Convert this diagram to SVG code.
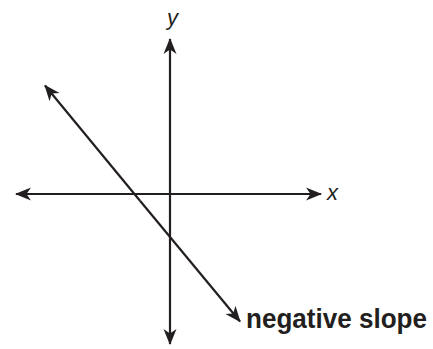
<svg xmlns="http://www.w3.org/2000/svg" width="433" height="349" viewBox="0 0 433 349">
<style>
.ax{stroke:#231f20;stroke-width:2.2;fill:none;marker-end:url(#ah);}
.lbl{font-family:"Liberation Sans",Arial,sans-serif;fill:#231f20;}
.it{font-style:italic;font-size:22px;}
.bd{font-weight:bold;font-size:27px;}
</style>
<defs>
<marker id="ah" markerUnits="userSpaceOnUse" markerWidth="20" markerHeight="16" viewBox="-16 -8 18 16" refX="0" refY="0" orient="auto">
<path d="M1,0 L-15,-6.5 L-10.5,0 L-15,6.5 Z" fill="#231f20"/>
</marker>
</defs>
<rect width="433" height="349" fill="#ffffff"/>
<g id="connectors">
<line class="ax" x1="170" y1="192" x2="170" y2="39"/>
<line class="ax" x1="170" y1="192" x2="170" y2="344"/>
<line class="ax" x1="170" y1="194" x2="321" y2="194"/>
<line class="ax" x1="170" y1="194" x2="16" y2="194"/>
<line class="ax" x1="140" y1="200.8" x2="45" y2="85.5"/>
<line class="ax" x1="140" y1="200.8" x2="240" y2="321.5"/>
</g>
<g id="label-y"><text class="lbl it" x="167" y="25">y</text></g>
<g id="label-x"><text class="lbl it" x="327" y="200">x</text></g>
<g id="label-slope"><text class="lbl bd" x="246" y="328" textLength="181" lengthAdjust="spacingAndGlyphs">negative slope</text></g>
</svg>
